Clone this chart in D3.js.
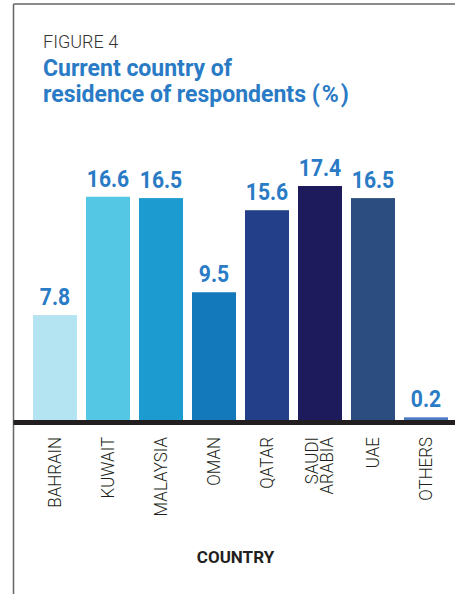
<!DOCTYPE html>
<html>
<head>
<meta charset="utf-8">
<script src="https://cdn.jsdelivr.net/npm/d3@7/dist/d3.min.js"></script>
<style>
  html, body { margin: 0; padding: 0; background: #fff; }
  svg { display: block; }
</style>
</head>
<body>
<svg id="chart" width="455" height="594"></svg>
<script>
// Country of residence, share of respondents (%)
const countries = ["BAHRAIN", "KUWAIT", "MALAYSIA", "OMAN", "QATAR", "SAUDI ARABIA", "UAE", "OTHERS"];
const shares = [7.8, 16.6, 16.5, 9.5, 15.6, 17.4, 16.5, 0.2];
const barColors = ["#b4e3f1", "#53c7e3", "#1b9bcf", "#1479bb", "#243f8a", "#1e1b5c", "#2c4d80", "#4b7bc2"];
// Category labels split over lines where they wrap
const labelLines = [["BAHRAIN"], ["KUWAIT"], ["MALAYSIA"], ["OMAN"], ["QATAR"], ["SAUDI", "ARABIA"], ["UAE"], ["OTHERS"]];

const svg = d3.select("#chart");
const W = 455, H = 594;
const blue = "#2a7bc5";
const ink = "#231f20";
const font = "Roboto, 'Open Sans', sans-serif";

// Page frame (left and top rules)
svg.append("line").attr("x1", 13.5).attr("y1", 4).attr("x2", 13.5).attr("y2", H)
  .attr("stroke", "#666").attr("stroke-width", 1.5);
svg.append("line").attr("x1", 13.5).attr("y1", 4).attr("x2", W).attr("y2", 4)
  .attr("stroke", "#666").attr("stroke-width", 1.5);

// Heading
svg.append("text").attr("x", 43).attr("y", 48)
  .attr("font-family", font).attr("font-weight", 300)
  .attr("font-size", 18).attr("fill", "#333").text("FIGURE 4");
const title = svg.append("text")
  .attr("font-family", font).attr("font-weight", 700)
  .attr("font-size", 23).attr("fill", blue);
title.append("tspan").attr("x", 43).attr("y", 76).text("Current country of");
const t2 = title.append("tspan").attr("x", 43).attr("y", 102);
t2.append("tspan").text("residence of respondents ");
t2.append("tspan").attr("letter-spacing", 2).text("(%)");

// Scales
const x = d3.scaleBand().domain(countries).range([28.5, 452.5])
  .paddingInner(0.17).paddingOuter(0.085);
const y = d3.scaleLinear().domain([0, 17.4]).range([420, 186]);

const data = countries.map((c, i) => ({ country: c, value: shares[i], color: barColors[i], lines: labelLines[i] }));

// Bars
svg.append("g").selectAll("rect").data(data).join("rect")
  .attr("x", d => x(d.country))
  .attr("y", d => y(d.value))
  .attr("width", x.bandwidth())
  .attr("height", d => y(0) - y(d.value))
  .attr("fill", d => d.color);

// Value labels (slightly condensed)
svg.append("g").selectAll("text").data(data).join("text")
  .attr("transform", d => `translate(${x(d.country) + x.bandwidth() / 2},${y(d.value) - 10}) scale(0.88,1)`)
  .attr("text-anchor", "middle")
  .attr("font-family", font).attr("font-weight", 700)
  .attr("font-size", 24).attr("fill", blue)
  .text(d => d.value.toFixed(1));

// Baseline
svg.append("line").attr("x1", 13.5).attr("x2", W).attr("y1", y(0) + 2.5).attr("y2", y(0) + 2.5)
  .attr("stroke", ink).attr("stroke-width", 5);

// Rotated category labels
const labelEnd = 437;
const lineGap = 15;
const catG = svg.append("g");
data.forEach(d => {
  const cx = x(d.country) + x.bandwidth() / 2;
  const n = d.lines.length;
  d.lines.forEach((ln, j) => {
    const bx = cx + 5.5 + (j - (n - 1) / 2) * lineGap;
    catG.append("text")
      .attr("transform", `translate(${bx},${labelEnd}) rotate(-90) scale(0.94,1)`)
      .attr("text-anchor", "end")
      .attr("font-family", font).attr("font-weight", 300)
      .attr("font-size", 18).attr("fill", ink)
      .text(ln);
  });
});

// Axis title
svg.append("text").attr("x", 235.5).attr("y", 563).attr("text-anchor", "middle")
  .attr("font-family", font).attr("font-weight", 700)
  .attr("font-size", 17).attr("fill", ink).text("COUNTRY");
</script>
</body>
</html>
